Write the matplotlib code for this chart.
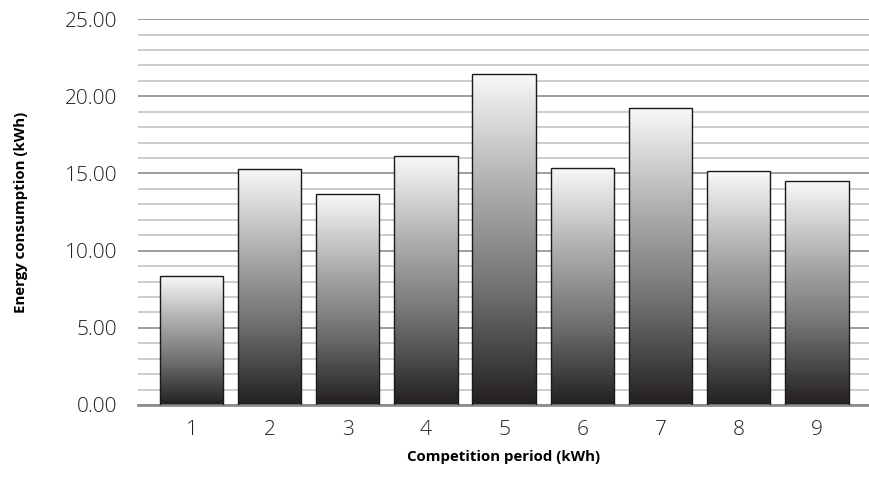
import matplotlib.pyplot as plt
import numpy as np
from matplotlib.colors import LinearSegmentedColormap

# data
periods = ["1", "2", "3", "4", "5", "6", "7", "8", "9"]
energy = [8.35, 15.28, 13.67, 16.13, 21.44, 15.35, 19.24, 15.16, 14.51]

plt.rcParams["font.family"] = ["Open Sans", "DejaVu Sans"]

fig = plt.figure(figsize=(8.7, 4.9), dpi=100)
ax = fig.add_axes([0.1586, 0.1735, 0.8414, 0.7875])

x = np.arange(len(periods))
width = 0.81
bars = ax.bar(x, energy, width, facecolor="none", edgecolor="#1a1a1a", linewidth=1.0, zorder=3)

# white on top, dark at the bottom, one gradient per bar
cmap = LinearSegmentedColormap.from_list("grad", ["#231f20", "#6e6e6e", "#b0b0b0", "#f8f8f8"])
grad = np.linspace(0, 1, 256).reshape(-1, 1)
for b in bars:
    x0, h = b.get_x(), b.get_height()
    ax.imshow(grad, cmap=cmap, origin="lower", aspect="auto",
              extent=[x0, x0 + b.get_width(), 0, h], zorder=2)

ax.set_xlim(-0.684, 8.68)
ax.set_ylim(0, 25)
ax.set_xticks(x)
ax.set_xticklabels(periods)
ax.set_yticks(np.arange(0, 26, 5))
ax.set_yticklabels(["%.2f" % v for v in np.arange(0, 26, 5)])
ax.set_yticks(np.arange(0, 26, 1), minor=True)

ax.grid(axis="y", which="major", color="#8c8c8c", linewidth=1.2, zorder=0)
ax.grid(axis="y", which="minor", color="#c4c4c4", linewidth=1.2, zorder=0)
ax.set_axisbelow(True)

for s in ["top", "right", "left"]:
    ax.spines[s].set_visible(False)
ax.spines["bottom"].set_color("#8c8c8c")
ax.spines["bottom"].set_linewidth(2)
ax.tick_params(axis="both", which="both", length=0, labelsize=15, colors="#231f20")
for lab in ax.get_xticklabels() + ax.get_yticklabels():
    lab.set_fontweight("light")
ax.tick_params(axis="x", pad=11)
ax.tick_params(axis="y", pad=15)

ax.set_ylabel("Energy consumption (kWh)", fontsize=10.8, fontweight="bold", labelpad=26)
ax.set_xlabel("Competition period (kWh)", fontsize=10.8, fontweight="bold", labelpad=7)

fig.savefig("out.png", dpi=100)
